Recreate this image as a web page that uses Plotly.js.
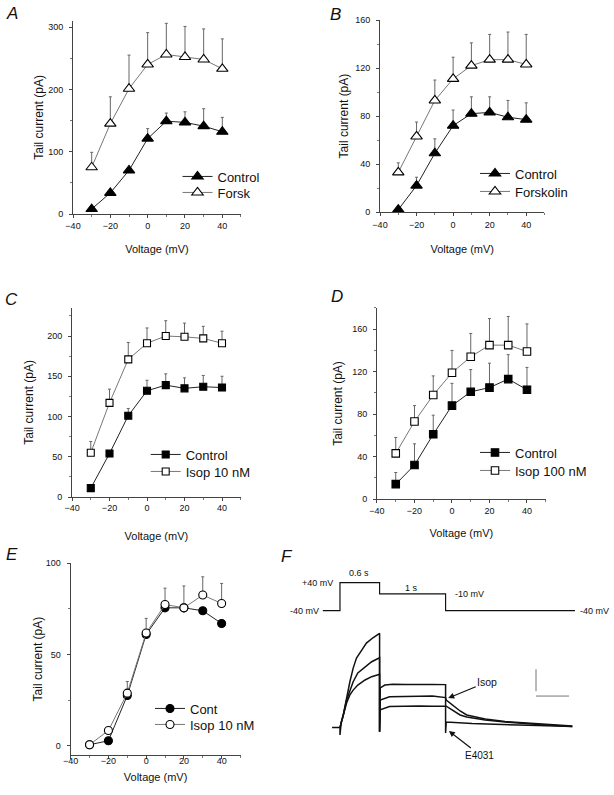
<!DOCTYPE html>
<html>
<head>
<meta charset="utf-8">
<script src="https://cdn.plot.ly/plotly-3.0.1.min.js"></script>
<style>html,body{margin:0;padding:0;background:#fff;}#chart{width:614px;height:795px;}</style>
</head>
<body>
<div id="chart"></div>
<script>
// ---------- data ----------
const voltages = [-30, -20, -10, 0, 10, 20, 30, 40];
const xTicks = [-40, -20, 0, 20, 40];

// Panel A
const aControl    = [8, 34, 70, 121, 149, 147, 141, 132];
const aControlErr = [0, 0, 0, 16, 13, 17, 28, 23];
const aForsk      = [75, 145, 201, 240, 256, 252, 248, 233];
const aForskErr   = [24, 43, 54, 51, 50, 49, 49, 48];

// Panel B
const bControl      = [2, 22, 49, 72, 82, 83, 79, 77];
const bControlErr   = [0, 7, 12, 13, 14, 13, 14, 14];
const bForskolin    = [33, 63, 93, 111, 122, 127, 127, 123];
const bForskolinErr = [8, 12, 17, 18, 19, 21, 23, 25];

// Panel C
const cControl    = [11, 54, 101, 132, 139, 135, 137, 136];
const cControlErr = [0, 0, 9, 13, 14, 13, 14, 14];
const cIsop       = [55, 117, 171, 191, 200, 199, 197, 191];
const cIsopErr    = [14, 17, 21, 19, 19, 17, 15, 15];

// Panel D
const dControl    = [14, 32, 61, 88, 101, 105, 113, 103];
const dControlErr = [11, 20, 18, 21, 21, 23, 23, 21];
const dIsop       = [43, 73, 98, 119, 134, 145, 145, 139];
const dIsopErr    = [15, 15, 18, 21, 22, 25, 27, 26];

// Panel E
const eCont     = [0.5, 2.7, 27.5, 61, 75.6, 75.6, 74, 67];
const eContErr  = [0, 0, 0, 0, 0, 0, 0, 0];
const eIsop     = [0.5, 8.3, 28.8, 61.8, 77.4, 75.6, 82.6, 78];
const eIsopErr  = [0, 0, 6.4, 8, 9, 12, 10, 11];

// Panel F: voltage protocol (time s, drawn level: -40 mV = 0, +40 mV = 1)
const protocolT     = [-0.26, 0, 0, 0.6, 0.6, 1.6, 1.6, 3.56];
const protocolLevel = [0, 0, 1, 1, 0.6, 0.6, 0, 0];
const protocolLabels = ['-40 mV', '+40 mV', '0.6 s', '1 s', '-10 mV', '-40 mV'];

// Panel F: current traces (time s, current pA)
const trace1T = [-0.12, -0.01, 0, 0, 0.01, 0.02, 0.05, 0.10, 0.15, 0.20, 0.25, 0.33, 0.40, 0.50, 0.60, 0.60, 0.61, 0.68, 0.80, 1.00, 1.20, 1.40, 1.60, 1.60, 1.61, 2.00, 2.50, 3.00, 3.52];
const trace1I = [0, 0, 0, -34, 11, 26, 57, 140, 208, 270, 316, 352, 384, 408, 428, -19, 180, 193, 197, 195, 197, 196, 195, -25, 25, 18, 12, 9, 5];
const trace2T = [0, 0.01, 0.02, 0.05, 0.10, 0.15, 0.20, 0.27, 0.38, 0.48, 0.60, 0.60, 0.61, 0.75, 1.00, 1.20, 1.40, 1.60, 1.61, 1.82, 1.92, 2.20, 2.50, 3.00, 3.52];
const trace2I = [0, 11, 26, 57, 125, 170, 208, 248, 276, 299, 317, -19, 125, 140, 143, 142, 143, 136, 125, 75, 57, 39, 27, 16, 7];
const trace3T = [0, 0.01, 0.02, 0.05, 0.10, 0.15, 0.20, 0.27, 0.38, 0.48, 0.60, 0.60, 0.61, 0.75, 1.00, 1.20, 1.40, 1.60, 1.61, 1.82, 1.92, 2.20, 2.50, 3.00, 3.52];
const trace3I = [0, 11, 26, 55, 111, 148, 170, 193, 216, 231, 242, -19, 80, 95, 98, 98, 97, 95, 97, 57, 48, 34, 25, 14, 5];
const scaleBarT = [2.97, 2.97, null, 2.97, 3.47];
const scaleBarI = [265, 165, null, 143, 143];

// ---------- styling helpers ----------
const FONT = 'Liberation Sans, Arial, Helvetica, sans-serif';
const INK = '#111';

function series(x, y, err, xa, ya, name, symbol, filled, size, legend, lineColor) {
  return {
    type: 'scatter', mode: 'lines+markers', x: x, y: y, name: name,
    xaxis: xa, yaxis: ya, legend: legend, cliponaxis: false,
    line: {color: lineColor, width: 1},
    marker: {symbol: symbol, size: size, color: filled ? '#000' : '#fff', line: {color: '#000', width: 1.1}},
    error_y: {type: 'data', symmetric: false, array: err, arrayminus: err.map(() => 0),
              color: '#666', thickness: 1, width: 1.5}
  };
}

const data = [
  series(voltages, aControl, aControlErr, 'x', 'y', 'Control', 'triangle-up', true, 10, 'legend', '#222'),
  series(voltages, aForsk, aForskErr, 'x', 'y', 'Forsk', 'triangle-up', false, 10, 'legend2', '#777'),
  series(voltages, bControl, bControlErr, 'x2', 'y2', 'Control', 'triangle-up', true, 10, 'legend3', '#222'),
  series(voltages, bForskolin, bForskolinErr, 'x2', 'y2', 'Forskolin', 'triangle-up', false, 10, 'legend4', '#777'),
  series(voltages, cControl, cControlErr, 'x3', 'y3', 'Control', 'square', true, 7, 'legend5', '#222'),
  series(voltages, cIsop, cIsopErr, 'x3', 'y3', 'Isop 10 nM', 'square', false, 7, 'legend6', '#777'),
  series(voltages, dControl, dControlErr, 'x4', 'y4', 'Control', 'square', true, 7.5, 'legend7', '#222'),
  series(voltages, dIsop, dIsopErr, 'x4', 'y4', 'Isop 100 nM', 'square', false, 7.5, 'legend8', '#777'),
  series(voltages, eCont, eContErr, 'x5', 'y5', 'Cont', 'circle', true, 8, 'legend9', '#222'),
  series(voltages, eIsop, eIsopErr, 'x5', 'y5', 'Isop 10 nM', 'circle', false, 8, 'legend10', '#777'),
  {type: 'scatter', mode: 'lines', x: protocolT, y: protocolLevel, xaxis: 'x6', yaxis: 'y6',
   showlegend: false, hoverinfo: 'skip', line: {color: '#111', width: 1.2}},
  {type: 'scatter', mode: 'lines', x: trace1T, y: trace1I, xaxis: 'x6', yaxis: 'y7',
   showlegend: false, line: {color: '#111', width: 1.5}},
  {type: 'scatter', mode: 'lines', x: trace2T, y: trace2I, xaxis: 'x6', yaxis: 'y7',
   showlegend: false, line: {color: '#111', width: 1.5}},
  {type: 'scatter', mode: 'lines', x: trace3T, y: trace3I, xaxis: 'x6', yaxis: 'y7',
   showlegend: false, line: {color: '#111', width: 1.5}},
  {type: 'scatter', mode: 'lines', x: scaleBarT, y: scaleBarI, xaxis: 'x6', yaxis: 'y7',
   showlegend: false, connectgaps: false, line: {color: '#777', width: 1}}
];

function xAxis(domain, anchor, standoffLbl, standoffTitle) {
  return {
    domain: domain, anchor: anchor, range: [-40, 50], tickvals: xTicks,
    showgrid: false, zeroline: false, showline: true, linecolor: '#444', linewidth: 1,
    ticks: 'outside', ticklen: 3, tickcolor: '#444', ticklabelstandoff: standoffLbl,
    minor: {dtick: 10, ticklen: 2, tickcolor: '#777', ticks: 'outside', showgrid: false},
    tickfont: {family: FONT, size: 9, color: INK},
    title: {text: 'Voltage (mV)', font: {family: FONT, size: 11, color: INK}, standoff: standoffTitle},
    fixedrange: true
  };
}
function yAxis(domain, anchor, range, dtick, standoffTitle) {
  return {
    domain: domain, anchor: anchor, range: range, tick0: 0, dtick: dtick,
    showgrid: false, zeroline: false, showline: true, linecolor: '#444', linewidth: 1,
    ticks: 'outside', ticklen: 3, tickcolor: '#444', ticklabelstandoff: 4,
    minor: {dtick: dtick / 2, ticklen: 2, tickcolor: '#777', ticks: 'outside', showgrid: false},
    tickfont: {family: FONT, size: 9, color: INK},
    title: {text: 'Tail current (pA)', font: {family: FONT, size: 12, color: INK}, standoff: standoffTitle},
    fixedrange: true
  };
}
// one legend per entry, placed by its left edge (px) and entry centre (px)
function legendAt(px, cy) {
  return {x: px / 614, y: 1 - (cy - 15.5) / 795, xanchor: 'left', yanchor: 'top', bgcolor: 'rgba(0,0,0,0)',
          font: {family: FONT, size: 13, color: INK}, itemwidth: 30, tracegroupgap: 0,
          traceorder: 'normal', borderwidth: 0};
}

function letter(txt, px, py) {
  return {text: txt, xref: 'paper', yref: 'paper', x: px / 614, y: 1 - py / 795,
          xanchor: 'center', yanchor: 'middle', showarrow: false,
          font: {family: FONT, size: 17, color: INK, style: 'italic'}};
}
function fLabel(txt, t, lvl, anchor) {
  return {text: txt, xref: 'x6', yref: 'y6', x: t, y: lvl, xanchor: anchor, yanchor: 'middle',
          showarrow: false, font: {family: FONT, size: 9, color: INK}};
}

const layout = {
  width: 614, height: 795, margin: {l: 0, r: 0, t: 0, b: 0},
  paper_bgcolor: '#fff', plot_bgcolor: 'rgba(0,0,0,0)', showlegend: true,
  font: {family: FONT, color: INK},
  xaxis:  xAxis([0.1189, 0.3925], 'y', 0, 15),
  yaxis:  yAxis([0.7308, 0.9738], 'x', [0, 310], 100, 1),
  xaxis2: xAxis([0.6189, 0.8868], 'y2', 1, 16),
  yaxis2: yAxis([0.7333, 0.9748], 'x2', [0, 160], 40, 3),
  xaxis3: xAxis([0.1173, 0.3921], 'y3', -1, 20),
  yaxis3: yAxis([0.3748, 0.6128], 'x3', [0, 235], 50, 10),
  xaxis4: xAxis([0.6140, 0.8888], 'y4', 0, 14),
  yaxis4: yAxis([0.3723, 0.6126], 'x4', [0, 180], 40, 6),
  xaxis5: xAxis([0.1151, 0.3917], 'y5', -6, 8),
  yaxis5: yAxis([0.0506, 0.2914], 'x5', [-5, 100], 50, 0),
  xaxis6: {domain: [0.4731, 0.9837], anchor: 'y6', range: [-0.75, 4.0], visible: false, fixedrange: true},
  yaxis6: {domain: [0.2213, 0.2847], anchor: 'x6', range: [-0.3, 1.5], visible: false, fixedrange: true},
  yaxis7: {domain: [0.0683, 0.2094], anchor: 'x6', range: [-60, 450], visible: false, fixedrange: true},
  legend:   legendAt(177.5, 177),
  legend2:  legendAt(177.5, 193),
  legend3:  legendAt(475, 174),
  legend4:  legendAt(475, 192),
  legend5:  legendAt(145.7, 455),
  legend6:  legendAt(145.7, 472),
  legend7:  legendAt(475, 453),
  legend8:  legendAt(475, 471),
  legend9:  legendAt(150, 709),
  legend10: legendAt(150, 725),
  annotations: [
    letter('A', 12, 14), letter('B', 335, 15), letter('C', 12, 299),
    letter('D', 337, 297), letter('E', 12, 554), letter('F', 287, 556),
    fLabel(protocolLabels[0], -0.29, 0, 'right'),
    fLabel(protocolLabels[1], -0.076, 1, 'right'),
    fLabel(protocolLabels[2], 0.29, 1.35, 'center'),
    fLabel(protocolLabels[3], 1.09, 0.82, 'center'),
    fLabel(protocolLabels[4], 1.71, 0.6, 'left'),
    fLabel(protocolLabels[5], 3.6, 0, 'left'),
    {text: 'Isop', xref: 'x6', yref: 'y7', x: 1.64, y: 134, ax: 39, ay: -16,
     showarrow: true, arrowhead: 2, arrowsize: 1, arrowwidth: 1.2, arrowcolor: '#111',
     font: {family: FONT, size: 10.5, color: INK}},
    {text: 'E4031', xref: 'x6', yref: 'y7', x: 1.65, y: -16, ax: 31, ay: 24,
     showarrow: true, arrowhead: 2, arrowsize: 1, arrowwidth: 1.2, arrowcolor: '#111',
     font: {family: FONT, size: 10, color: INK}}
  ]
};

Plotly.newPlot('chart', data, layout, {staticPlot: true, displayModeBar: false});
</script>
</body>
</html>
